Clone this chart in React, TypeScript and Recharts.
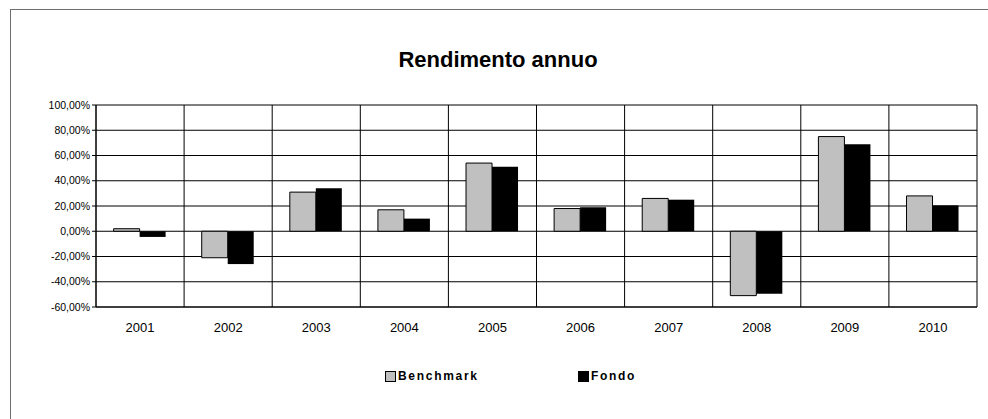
import React from 'react';
import { BarChart, Bar, XAxis, YAxis, CartesianGrid } from 'recharts';

const years = ['2001', '2002', '2003', '2004', '2005', '2006', '2007', '2008', '2009', '2010'];
const benchmark = [2, -21, 31, 17, 54, 18, 26, -51, 75, 28];
const fondo = [-4.5, -26, 34, 10, 51, 19, 25, -49.5, 69, 20.5];
const yTicks = [-60, -40, -20, 0, 20, 40, 60, 80, 100];

const data = years.map((y, i) => ({ year: y, Benchmark: benchmark[i], Fondo: fondo[i] }));

const FONT = '"Liberation Sans", Arial, sans-serif';

const fmtPct = (v: number) => v.toFixed(2).replace('.', ',') + '%';

const LegendBox = () => (
  <div style={{ position: 'absolute', left: 0, top: 370, width: 988, height: 14, fontFamily: FONT, fontSize: 12, fontWeight: 'bold', letterSpacing: 1.7 }}>
    {/* Benchmark */}
    <div style={{ position: 'absolute', left: 385, top: 1, width: 9, height: 9, background: '#c0c0c0', border: '1px solid #000' }} />
    <span style={{ position: 'absolute', left: 398, top: -1 }}>Benchmark</span>
    {/* Fondo */}
    <div style={{ position: 'absolute', left: 578, top: 1, width: 11, height: 11, background: '#000' }} />
    <span style={{ position: 'absolute', left: 591, top: -1 }}>Fondo</span>
  </div>
);

const App: React.FC = () => {
  return (
    <div style={{ position: 'absolute', left: 0, top: 0, width: 988, height: 419, background: '#fff', overflow: 'hidden' }}>
      <div style={{ position: 'absolute', left: 10, top: 9, width: 1000, height: 430, border: '1px solid #6e6e6e' }} />
      <div style={{ position: 'absolute', left: 0, top: 47, width: 996, textAlign: 'center', fontFamily: FONT, fontSize: 22, fontWeight: 'bold' }}>
        Rendimento annuo
      </div>
      <div style={{ position: 'absolute', left: 0, top: 0 }}>
        <BarChart
          width={988}
          height={419}
          data={data}
          margin={{ top: 105, right: 11, bottom: 82, left: 10 }}
          barCategoryGap="20%"
          barGap={0}
        >
          <CartesianGrid
            stroke="#000"
            strokeWidth={1}
            verticalCoordinatesGenerator={({ offset }: any) =>
              years.map((_, i) => offset.left + (i * offset.width) / years.length).concat([offset.left + offset.width])
            }
          />
          <XAxis
            dataKey="year"
            height={30}
            tickLine={false}
            tickSize={0}
            tickMargin={16}
            axisLine={{ stroke: '#000' }}
            tick={{ fontFamily: FONT, fontSize: 13, fill: '#000' }}
          />
          <YAxis
            width={86}
            domain={[-60, 100]}
            ticks={yTicks}
            interval={0}
            tickFormatter={fmtPct}
            tickSize={4}
            tickMargin={2}
            axisLine={{ stroke: '#000' }}
            tickLine={{ stroke: '#000' }}
            tick={{ fontFamily: FONT, fontSize: 10.5, fill: '#000' }}
          />
          <Bar dataKey="Benchmark" fill="#c0c0c0" stroke="#000" strokeWidth={1} isAnimationActive={false} />
          <Bar dataKey="Fondo" fill="#000" isAnimationActive={false} />
        </BarChart>
      </div>
      <LegendBox />
    </div>
  );
};

export default App;
